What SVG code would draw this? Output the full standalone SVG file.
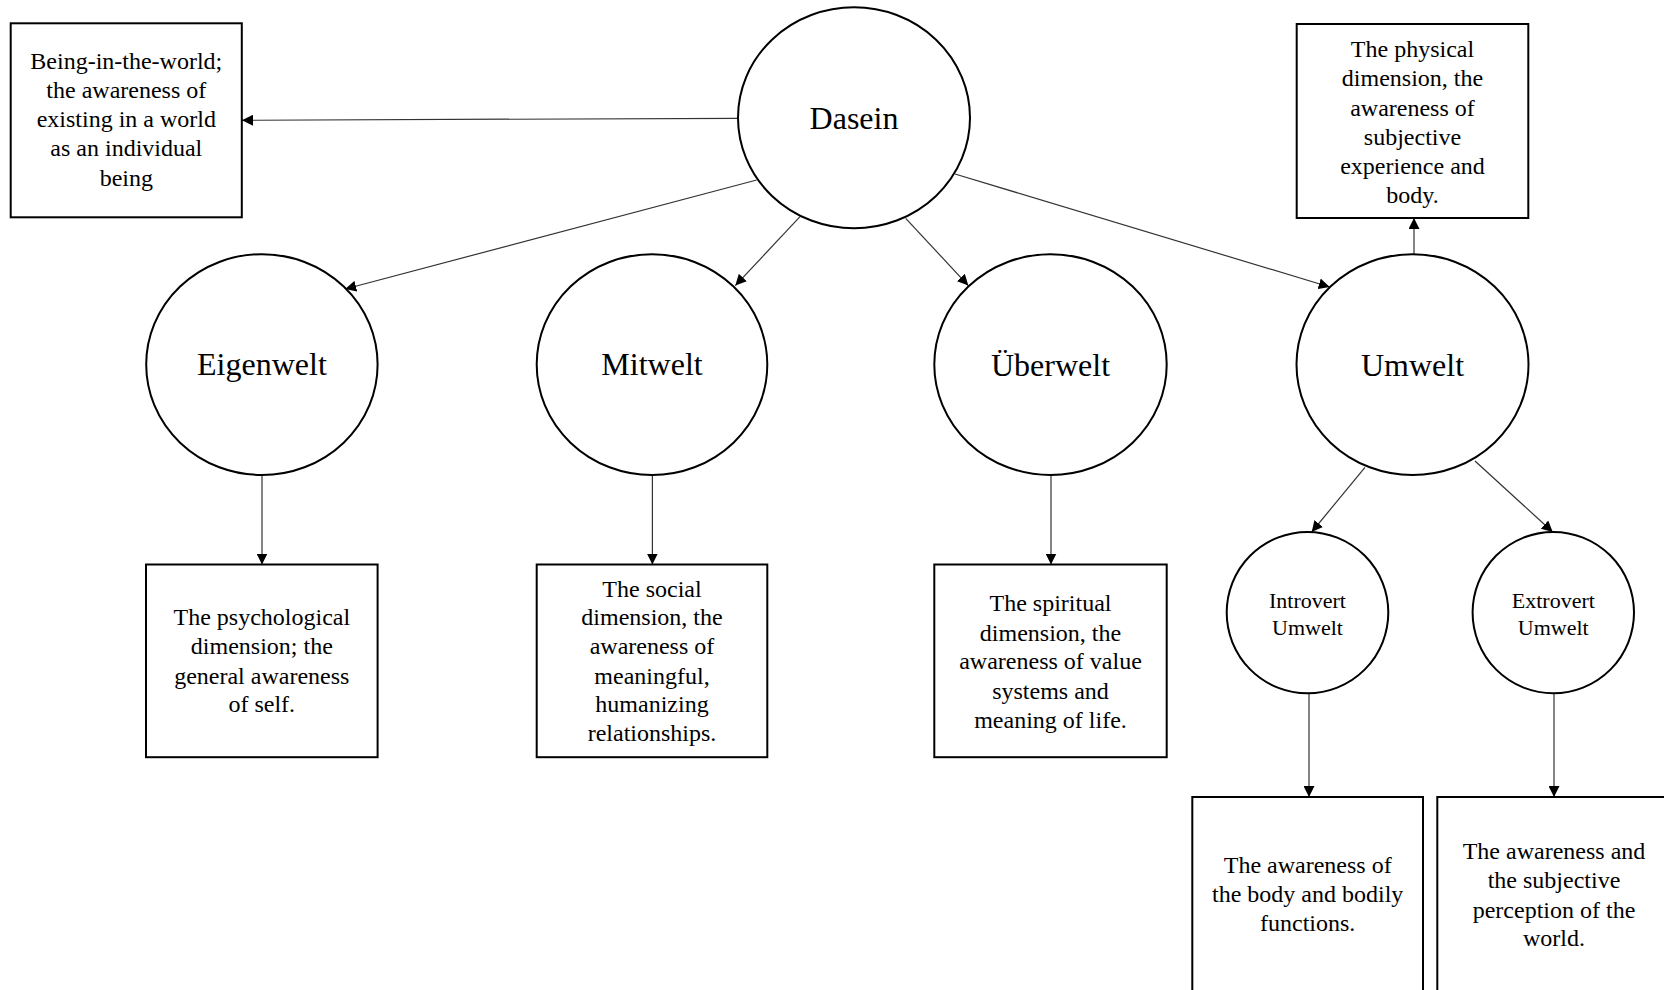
<svg xmlns="http://www.w3.org/2000/svg" width="1664" height="990" viewBox="0 0 1664 990">
<defs>
<marker id="ah" markerUnits="userSpaceOnUse" markerWidth="11" markerHeight="11" refX="11" refY="5.5" orient="auto" viewBox="0 0 11 11">
<path d="M0,0 L11,5.5 L0,11 z" fill="#000"/>
</marker>
<style>
.box{fill:#fff;stroke:#000;stroke-width:2}
.circ{fill:#fff;stroke:#000;stroke-width:2}
.edge{fill:none;stroke:#333;stroke-width:1.2;marker-end:url(#ah)}
.t{font-family:"Liberation Serif","Times New Roman",serif;font-size:24px;fill:#000;text-anchor:middle}
.big{font-family:"Liberation Serif","Times New Roman",serif;font-size:32px;fill:#000;text-anchor:middle}
.mid{font-family:"Liberation Serif","Times New Roman",serif;font-size:22px;fill:#000;text-anchor:middle}
</style>
</defs>
<rect width="1664" height="990" fill="#fff"/>
<g id="connectors">
<line class="edge" x1="738" y1="118.3" x2="242" y2="120.3"/>
<line class="edge" x1="756.7" y1="180" x2="345.2" y2="289"/>
<line class="edge" x1="800" y1="216.7" x2="735.3" y2="285.6"/>
<line class="edge" x1="905.7" y1="218.3" x2="968.3" y2="285.6"/>
<line class="edge" x1="955" y1="174" x2="1329.7" y2="287"/>
<line class="edge" x1="1414" y1="255" x2="1414" y2="218"/>
<line class="edge" x1="262" y1="475" x2="262" y2="564.5"/>
<line class="edge" x1="652.4" y1="475" x2="652.4" y2="564.5"/>
<line class="edge" x1="1051" y1="475" x2="1051" y2="564.5"/>
<line class="edge" x1="1365" y1="467.4" x2="1311.7" y2="532"/>
<line class="edge" x1="1475" y1="461" x2="1552.7" y2="532"/>
<line class="edge" x1="1309" y1="693.2" x2="1309" y2="797"/>
<line class="edge" x1="1554" y1="693.2" x2="1554" y2="797"/>
</g>
<g id="dasein">
<ellipse class="circ" cx="854" cy="117.8" rx="116" ry="110.5"/>
<text class="big" x="854" y="129.3">Dasein</text>
</g>
<g id="being-box">
<rect class="box" x="10.7" y="23.3" width="231.1" height="194"/>
<text class="t" x="126.3" y="68.5">Being-in-the-world;</text>
<text class="t" x="126.3" y="97.7">the awareness of</text>
<text class="t" x="126.3" y="127">existing in a world</text>
<text class="t" x="126.3" y="156.3">as an individual</text>
<text class="t" x="126.3" y="185.5">being</text>
</g>
<g id="physical-box">
<rect class="box" x="1296.7" y="24" width="231.6" height="194"/>
<text class="t" x="1412.5" y="57.3">The physical</text>
<text class="t" x="1412.5" y="86.4">dimension, the</text>
<text class="t" x="1412.5" y="115.5">awareness of</text>
<text class="t" x="1412.5" y="144.6">subjective</text>
<text class="t" x="1412.5" y="173.7">experience and</text>
<text class="t" x="1412.5" y="202.8">body.</text>
</g>
<g id="eigenwelt">
<ellipse class="circ" cx="261.9" cy="364.6" rx="115.7" ry="110.4"/>
<text class="big" x="261.9" y="375.2">Eigenwelt</text>
</g>
<g id="mitwelt">
<ellipse class="circ" cx="652" cy="364.6" rx="115.3" ry="110.4"/>
<text class="big" x="652" y="375.2">Mitwelt</text>
</g>
<g id="uberwelt">
<ellipse class="circ" cx="1050.5" cy="364.6" rx="116.2" ry="110.4"/>
<text class="big" x="1050.5" y="376">Überwelt</text>
</g>
<g id="umwelt">
<ellipse class="circ" cx="1412.5" cy="364.6" rx="116" ry="110.4"/>
<text class="big" x="1412.5" y="376">Umwelt</text>
</g>
<g id="eigenwelt-box">
<rect class="box" x="146" y="564.5" width="231.6" height="192.7"/>
<text class="t" x="261.8" y="625.4">The psychological</text>
<text class="t" x="261.8" y="654.1">dimension; the</text>
<text class="t" x="261.8" y="683.5">general awareness</text>
<text class="t" x="261.8" y="712.3">of self.</text>
</g>
<g id="mitwelt-box">
<rect class="box" x="536.7" y="564.5" width="230.6" height="192.7"/>
<text class="t" x="652" y="596.7">The social</text>
<text class="t" x="652" y="625.4">dimension, the</text>
<text class="t" x="652" y="654.1">awareness of</text>
<text class="t" x="652" y="683.5">meaningful,</text>
<text class="t" x="652" y="712.3">humanizing</text>
<text class="t" x="652" y="741.4">relationships.</text>
</g>
<g id="uberwelt-box">
<rect class="box" x="934.3" y="564.5" width="232.4" height="192.7"/>
<text class="t" x="1050.5" y="610.9">The spiritual</text>
<text class="t" x="1050.5" y="640.6">dimension, the</text>
<text class="t" x="1050.5" y="669.3">awareness of value</text>
<text class="t" x="1050.5" y="698.8">systems and</text>
<text class="t" x="1050.5" y="727.8">meaning of life.</text>
</g>
<g id="introvert">
<ellipse class="circ" cx="1307.5" cy="612.6" rx="80.8" ry="80.7"/>
<text class="mid" x="1307.5" y="608.4">Introvert</text>
<text class="mid" x="1307.5" y="635.4">Umwelt</text>
</g>
<g id="extrovert">
<ellipse class="circ" cx="1553.3" cy="612.6" rx="80.7" ry="80.7"/>
<text class="mid" x="1553.3" y="608.4">Extrovert</text>
<text class="mid" x="1553.3" y="635.4">Umwelt</text>
</g>
<g id="introvert-box">
<rect class="box" x="1192.3" y="797" width="230.7" height="210"/>
<text class="t" x="1307.7" y="873.2">The awareness of</text>
<text class="t" x="1307.7" y="902.3">the body and bodily</text>
<text class="t" x="1307.7" y="931">functions.</text>
</g>
<g id="extrovert-box">
<rect class="box" x="1437.3" y="797" width="233.4" height="210"/>
<text class="t" x="1554" y="859.2">The awareness and</text>
<text class="t" x="1554" y="888.3">the subjective</text>
<text class="t" x="1554" y="917.7">perception of the</text>
<text class="t" x="1554" y="946.1">world.</text>
</g>
</svg>
